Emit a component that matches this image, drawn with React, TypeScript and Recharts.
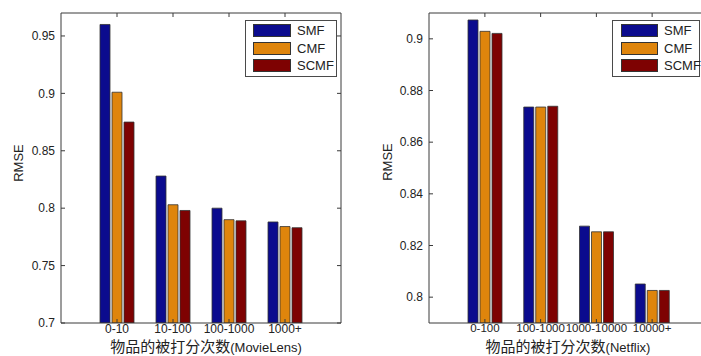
import React from 'react';
import { BarChart, Bar, XAxis, YAxis, Legend } from 'recharts';

const leftCategories = ['0-10', '10-100', '100-1000', '1000+'];
const leftSMF = [0.96, 0.828, 0.8, 0.788];
const leftCMF = [0.901, 0.803, 0.79, 0.784];
const leftSCMF = [0.875, 0.798, 0.789, 0.783];
const leftTicks = [0.7, 0.75, 0.8, 0.85, 0.9, 0.95];
const leftDomain = [0.7, 0.97];

const rightCategories = ['0-100', '100-1000', '1000-10000', '10000+'];
const rightSMF = [0.9073, 0.8736, 0.8275, 0.8051];
const rightCMF = [0.9029, 0.8736, 0.8253, 0.8026];
const rightSCMF = [0.9021, 0.8739, 0.8253, 0.8026];
const rightTicks = [0.8, 0.82, 0.84, 0.86, 0.88, 0.9];
const rightDomain = [0.79, 0.91];

const seriesNames = ['SMF', 'CMF', 'SCMF'];
const seriesColors = ['#0b0b8e', '#df850c', '#7e0202'];

const FONT = '"Liberation Sans", Arial, sans-serif';
const CJK = '"Noto Sans CJK SC", sans-serif';
const AXIS = '#3a3a3a';
const TEXT = '#222';

type PanelProps = {
  cats: string[];
  s1: number[];
  s2: number[];
  s3: number[];
  domain: number[];
  ticks: number[];
  width: number;
  yAxisWidth: number;
  rightMargin: number;
  legendLeft: number;
  legendWidth: number;
  swatchLeft: number;
  swatchWidth: number;
  textLeft: number;
  yLabelX: number;
  yLabelY: number;
  xLabelX: number;
  xTickSize: number;
  xMain: string;
  xSuffix: string;
};

function Panel(p: PanelProps) {
  const data = p.cats.map((c, i) => ({ cat: c, SMF: p.s1[i], CMF: p.s2[i], SCMF: p.s3[i] }));
  const legendContent = (props: any) => {
    const payload = [...(props.payload || [])].sort(
      (a: any, b: any) => seriesNames.indexOf(a.value) - seriesNames.indexOf(b.value)
    );
    return (
      <div
        style={{
          position: 'relative',
          width: p.legendWidth,
          height: 57,
          border: '1px solid #4a4a4a',
          background: '#fff',
          boxSizing: 'border-box',
          fontFamily: FONT,
          fontSize: 13,
          color: TEXT,
        }}
      >
        {payload.map((e: any, i: number) => (
          <div key={i}>
            <div
              style={{
                position: 'absolute',
                left: p.swatchLeft,
                top: 3 + i * 17.7,
                width: p.swatchWidth,
                height: 13,
                background: e.color,
                border: '1px solid #333',
                boxSizing: 'border-box',
              }}
            />
            <div
              style={{
                position: 'absolute',
                left: p.textLeft,
                top: 1 + i * 17.7,
                lineHeight: '17px',
                whiteSpace: 'nowrap',
              }}
            >
              {e.value}
            </div>
          </div>
        ))}
      </div>
    );
  };
  return (
    <BarChart
      width={p.width}
      height={356}
      data={data}
      margin={{ top: 12, right: p.rightMargin, bottom: 0, left: 0 }}
      barSize={10}
      barGap={2}
    >
      <XAxis
        dataKey="cat"
        height={33}
        padding={{ left: 28, right: 28 }}
        interval={0}
        tickSize={-4}
        tickMargin={5}
        stroke={AXIS}
        tick={{ fill: TEXT, fontSize: p.xTickSize, fontFamily: FONT }}
        label={{
          content: () => (
            <text x={p.xLabelX} y={352} textAnchor="middle" fill={TEXT}>
              <tspan fontFamily={CJK} fontSize={15}>{p.xMain}</tspan>
              <tspan fontFamily={FONT} fontSize={13}>{p.xSuffix}</tspan>
            </text>
          ),
        }}
      />
      <XAxis
        xAxisId="top"
        dataKey="cat"
        orientation="top"
        height={1}
        padding={{ left: 28, right: 28 }}
        interval={0}
        tickSize={-4}
        stroke={AXIS}
        tick={() => <g />}
      />
      <YAxis
        width={p.yAxisWidth}
        domain={p.domain}
        ticks={p.ticks}
        allowDataOverflow
        interval={0}
        tickSize={-4}
        tickMargin={10}
        stroke={AXIS}
        tick={{ fill: TEXT, fontSize: 12, fontFamily: FONT }}
        label={{
          content: () => (
            <text
              x={p.yLabelX}
              y={p.yLabelY}
              transform={`rotate(-90 ${p.yLabelX} ${p.yLabelY})`}
              textAnchor="middle"
              dominantBaseline="central"
              fontFamily={FONT}
              fontSize={13}
              fill={TEXT}
            >
              RMSE
            </text>
          ),
        }}
      />
      <YAxis
        yAxisId="right"
        orientation="right"
        width={1}
        domain={p.domain}
        ticks={p.ticks}
        allowDataOverflow
        interval={0}
        tickSize={-4}
        stroke={AXIS}
        tick={() => <g />}
      />
      <Legend
        layout="vertical"
        align="center"
        verticalAlign="middle"
        content={legendContent}
        wrapperStyle={{ left: p.legendLeft, top: 20, width: p.legendWidth, height: 57 }}
      />
      {seriesNames.map((n, i) => (
        <Bar
          key={n}
          dataKey={n}
          name={n}
          fill={seriesColors[i]}
          stroke="#333"
          strokeWidth={0.8}
          isAnimationActive={false}
        />
      ))}
    </BarChart>
  );
}

export default function App() {
  return (
    <div
      style={{
        position: 'absolute',
        left: 0,
        top: 0,
        width: 701,
        height: 356,
        overflow: 'hidden',
        background: '#fff',
      }}
    >
      <div style={{ position: 'absolute', left: 0, top: 0 }}>
        <Panel
          cats={leftCategories}
          s1={leftSMF}
          s2={leftCMF}
          s3={leftSCMF}
          domain={leftDomain}
          ticks={leftTicks}
          width={350}
          yAxisWidth={61}
          rightMargin={8}
          legendLeft={245}
          legendWidth={92}
          swatchLeft={7}
          swatchWidth={38}
          textLeft={51}
          yLabelX={18}
          yLabelY={163}
          xLabelX={206}
          xTickSize={12}
          xMain="物品的被打分次数"
          xSuffix="(MovieLens)"
        />
      </div>
      <div style={{ position: 'absolute', left: 350, top: 0 }}>
        <Panel
          cats={rightCategories}
          s1={rightSMF}
          s2={rightCMF}
          s3={rightSCMF}
          domain={rightDomain}
          ticks={rightTicks}
          width={360}
          yAxisWidth={79}
          rightMargin={1}
          legendLeft={262}
          legendWidth={88}
          swatchLeft={8}
          swatchWidth={37}
          textLeft={51}
          yLabelX={37}
          yLabelY={162}
          xLabelX={218}
          xTickSize={11.5}
          xMain="物品的被打分次数"
          xSuffix="(Netflix)"
        />
      </div>
    </div>
  );
}
